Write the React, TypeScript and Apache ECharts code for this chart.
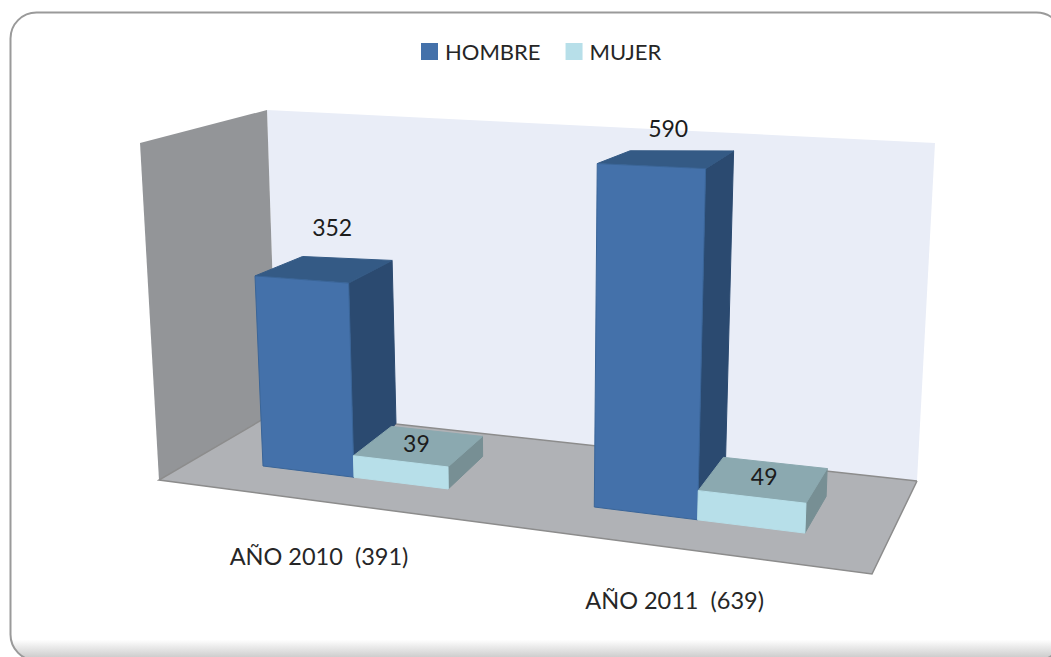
import React, { useEffect, useRef } from "react";
import * as echarts from "echarts";

const categories = ["AÑO 2010  (391)", "AÑO 2011  (639)"];
const seriesNames = ["HOMBRE", "MUJER"];
const hombre = [352, 590];
const mujer = [39, 49];

const FONT = "Lato, 'Open Sans', sans-serif";
const GRID = { left: 263, top: 100, width: 536.4, height: 420 };
const Y_MAX = 700;
const X_MAX = 6;
const UNIT = GRID.width / X_MAX;
const K = 0.0175;
const GROUP_STEP = 3.48;
const FRONT_X0 = 263;
const FRONT_Y0 = 466;
const FRONT_SLOPE = 0.1238;

// label nudges in pixels from the bar's top centre: [x, lift]
const NUDGE_HOMBRE = [[8, 42], [2, 30]];
const NUDGE_MUJER = [[-2, 3], [1, 4]];
// per-category vertical nudge of the axis labels
const CATEGORY_DROP = [79, 80.5];

function project(api: any, t: number, value: number, dx: number, dy: number) {
  const c0 = api.coord([t, 0]);
  const c1 = api.coord([t, value]);
  const s = c0[0] - GRID.left;
  const fx = FRONT_X0 + s / (1 - (K * s) / UNIT);
  const baseY = FRONT_Y0 + FRONT_SLOPE * (fx - FRONT_X0);
  const h = (c0[1] - c1[1]) / (GRID.height / Y_MAX);
  const lean = -0.0227 + 0.0000836 * (fx - 263);
  const rise = 0.54 + 0.000127 * (fx - 263);
  const leanB = -0.011 + 0.0000717 * (fx - 354);
  const riseB = 0.447 + 0.000172 * (fx - 263);
  const shiftX = 42 - 0.0408 * (fx - 354);
  const shiftY = -54 - 0.0204 * (fx - 354);
  return [
    fx + dx * shiftX + h * (lean + (leanB - lean) * dx),
    baseY + dy * shiftY - h * (rise + (riseB - rise) * dy),
  ];
}

function barRenderer(
  offset: number,
  depthX: number,
  depthY: number,
  colors: { front: string; top: string; side: string; edge: string },
  nudges: number[][]
) {
  return (params: any, api: any) => {
    const cat = api.value(0);
    const v = api.value(1);
    const t0 = cat * GROUP_STEP + offset;
    const t1 = t0 + 1;
    const p = (t: number, val: number, back: boolean) =>
      project(api, t, val, back ? depthX : 0, back ? depthY : 0);
    const poly = (points: number[][], fill: string, stroke: string) => ({
      type: "polygon",
      shape: { points },
      style: { fill, stroke, lineWidth: 1 },
    });
    const mid = project(api, (t0 + t1) / 2, v, depthX / 2, depthY / 2);
    const nudge = nudges[params.dataIndex];
    return {
      type: "group",
      children: [
        poly([p(t1, 0, false), p(t1, 0, true), p(t1, v, true), p(t1, v, false)], colors.side, colors.side),
        poly([p(t0, v, false), p(t0, v, true), p(t1, v, true), p(t1, v, false)], colors.top, colors.top),
        poly([p(t0, 0, false), p(t1, 0, false), p(t1, v, false), p(t0, v, false)], colors.front, colors.edge),
        {
          type: "text",
          x: mid[0] + nudge[0],
          y: mid[1] - nudge[1],
          style: {
            text: String(v),
            fontFamily: FONT,
            fontSize: 23,
            fill: "#1c1c1c",
            textAlign: "center",
            textVerticalAlign: "middle",
          },
        },
      ],
    };
  };
}

function categoryRenderer(params: any, api: any) {
  const t = api.value(0) * GROUP_STEP + 1;
  const p = project(api, t, 0, 0, 0);
  return {
    type: "text",
    x: p[0] - 35 + (12 * (p[0] - 354)) / 343,
    y: p[1] + CATEGORY_DROP[params.dataIndex],
    style: {
      text: categories[params.dataIndex],
      fontFamily: FONT,
      fontSize: 23.5,
      fill: "#262626",
      textAlign: "center",
      textVerticalAlign: "middle",
    },
  };
}

export default function App() {
  const ref = useRef<HTMLDivElement>(null);
  useEffect(() => {
    document.body.style.margin = "0";
    const chart = echarts.init(ref.current!, null, { renderer: "svg" });
    chart.setOption({
      animation: false,
      backgroundColor: "#ffffff",
      grid: GRID,
      xAxis: { type: "value", min: 0, max: X_MAX, show: false },
      yAxis: { type: "value", min: 0, max: Y_MAX, show: false },
      tooltip: { show: false },
      legend: {
        data: seriesNames,
        left: 416,
        top: 35.5,
        icon: "rect",
        itemWidth: 17,
        itemHeight: 17,
        itemGap: 25,
        selectedMode: false,
        textStyle: { fontFamily: FONT, fontSize: 22, color: "#262626", padding: [0, 0, 0, 2] },
      },
      graphic: [
        {
          type: "rect",
          z: 0,
          shape: { x: 10.5, y: 12.5, width: 1052, height: 648, r: 26 },
          style: {
            fill: {
              type: "linear",
              x: 0,
              y: 0,
              x2: 0,
              y2: 1,
              colorStops: [
                { offset: 0, color: "#ffffff" },
                { offset: 0.968, color: "#ffffff" },
                { offset: 1, color: "#c4c4c4" },
              ],
            },
            stroke: "#9a9a9a",
            lineWidth: 2,
          },
        },
        {
          type: "polygon",
          z: 1,
          shape: { points: [[267, 110], [935, 143], [917, 481], [277, 411]] },
          style: { fill: "#e9edf7" },
        },
        {
          type: "polygon",
          z: 1,
          shape: { points: [[140, 143], [267, 110], [277, 411], [159, 480]] },
          style: { fill: "#939598" },
        },
        {
          type: "polygon",
          z: 1,
          shape: { points: [[159, 480], [277, 411], [917, 481], [872, 574]] },
          style: { fill: "#b0b2b6" },
        },
        {
          type: "polyline",
          z: 1,
          shape: { points: [[917, 481], [872, 574], [159, 480], [277, 411], [917, 481]] },
          style: { stroke: "#8c8c8c", lineWidth: 1.5, fill: "none" },
        },
      ],
      series: [
        {
          name: seriesNames[0],
          type: "custom",
          z: 3,
          coordinateSystem: "cartesian2d",
          itemStyle: { color: "#4471aa", borderColor: "#34608f" },
          data: hombre.map((v, i) => [i, v]),
          renderItem: barRenderer(0, 1, 1, { front: "#4471aa", top: "#345a85", side: "#2b4a70", edge: "#3a6598" }, NUDGE_HOMBRE),
        },
        {
          name: seriesNames[1],
          type: "custom",
          z: 4,
          coordinateSystem: "cartesian2d",
          itemStyle: { color: "#b7dfe9" },
          data: mujer.map((v, i) => [i, v]),
          renderItem: barRenderer(1, 0.9, 0.58, { front: "#b7dfe9", top: "#8ba9b0", side: "#778f94", edge: "#b7dfe9" }, NUDGE_MUJER),
        },
        {
          name: "categories",
          type: "custom",
          z: 3,
          coordinateSystem: "cartesian2d",
          data: categories.map((_, i) => [i, 0]),
          renderItem: categoryRenderer,
        },
      ],
    });
    return () => chart.dispose();
  }, []);
  return <div ref={ref} style={{ width: 1051, height: 657 }} />;
}
